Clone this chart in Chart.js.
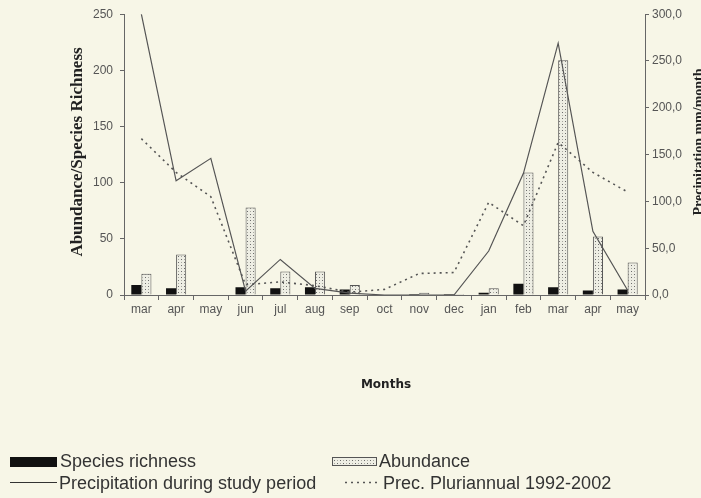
<!DOCTYPE html>
<html><head><meta charset="utf-8">
<script src="https://cdn.jsdelivr.net/npm/chart.js@4.4.1/dist/chart.umd.min.js"></script>
<style>html,body{margin:0;padding:0;background:#f7f6e7;}#wrap{width:701px;height:498px;position:relative;}</style>
</head><body><div id="wrap"><canvas id="c" width="701" height="498"></canvas></div>
<script>
const months = ['mar','apr','may','jun','jul','aug','sep','oct','nov','dec','jan','feb','mar','apr','may'];
const richness = [9,6,0,7,6,7,5,0,1,1,2,10,7,4,5];
const abundance = [19,36,0,78,21,21,9,0,2,1,6,109,209,52,29];
const precStudy = [300,122,146,4,38,7,2,0,0,0,47,130,269,68,5];
const precPluri = [167,131,105,11,14,10,3,6,23,24,99,74,163,131,110];
const leftTicks = [0,50,100,150,200,250];
const rightTicks = [0,50,100,150,200,250,300];

const BG = '#f7f6e7';
const canvas = document.getElementById('c');
const mainCtx = canvas.getContext('2d');
function makePattern(){
  const c = document.createElement('canvas'); c.width = 6; c.height = 6;
  const x = c.getContext('2d');
  x.fillStyle = '#eeeee4'; x.fillRect(0,0,6,6);
  x.fillStyle = '#6a6a6a'; x.fillRect(1,1,1,1); x.fillRect(4,4,1,1);
  x.fillStyle = '#a8a8a0'; x.fillRect(4,1,1,1); x.fillRect(1,4,1,1);
  return mainCtx.createPattern(c,'repeat');
}
const pattern = makePattern();

const decor = {
  id: 'decor',
  beforeDraw(chart){
    const ctx = chart.ctx; ctx.save(); ctx.fillStyle = BG; ctx.fillRect(0,0,chart.width,chart.height); ctx.restore();
  },
  afterDraw(chart){
    const ctx = chart.ctx;
    ctx.save();
    ctx.fillStyle = '#222';
    ctx.textAlign = 'center'; ctx.textBaseline = 'middle';
    ctx.save(); ctx.translate(78,152); ctx.rotate(-Math.PI/2);
    ctx.font = 'bold 17px "Liberation Serif"';
    ctx.fillText('Abundance/Species Richness',0,0); ctx.restore();
    ctx.save(); ctx.translate(699,142); ctx.rotate(-Math.PI/2);
    ctx.font = 'bold 14px "Liberation Serif"';
    ctx.fillText('Precipitation mm/month',0,0); ctx.restore();
    ctx.font = 'bold 12px "DejaVu Sans"';
    ctx.fillText('Months',386,385);
    // legend
    ctx.textAlign = 'left';
    ctx.font = '18px "Liberation Sans"';
    ctx.fillStyle = '#111'; ctx.fillRect(10,457,47,10);
    ctx.fillStyle = '#333'; ctx.fillText('Species richness',60,462);
    ctx.fillStyle = pattern; ctx.fillRect(332,457,45,9);
    ctx.strokeStyle = '#555'; ctx.lineWidth = 1; ctx.strokeRect(332.5,457.5,44,8);
    ctx.fillStyle = '#333'; ctx.fillText('Abundance',379,462);
    ctx.strokeStyle = '#333'; ctx.beginPath(); ctx.moveTo(10,482.5); ctx.lineTo(57,482.5); ctx.stroke();
    ctx.fillText('Precipitation during study period',59,484);
    ctx.strokeStyle = '#555';
    ctx.setLineDash([2,4]); ctx.lineWidth = 1.5; ctx.beginPath(); ctx.moveTo(345,482.5); ctx.lineTo(381,482.5); ctx.stroke();
    ctx.setLineDash([]);
    ctx.fillText('Prec. Pluriannual 1992-2002',383,484);
    ctx.restore();
  }
};

new Chart(canvas, {
  type: 'bar',
  data: {
    labels: months,
    datasets: [
      {type:'line', label:'Precipitation during study period', data: precStudy, yAxisID:'y1', borderColor:'#555', borderWidth:1.2, pointRadius:0, tension:0, order:0, fill:false},
      {type:'line', label:'Prec. Pluriannual 1992-2002', data: precPluri, yAxisID:'y1', borderColor:'#555', borderWidth:1.6, borderDash:[2,4], pointRadius:0, tension:0, order:0, fill:false},
      {label:'Species richness', data: richness, yAxisID:'y', backgroundColor:'#111', borderWidth:0, order:1, categoryPercentage:0.58, barPercentage:1.0},
      {label:'Abundance', data: abundance, yAxisID:'y', backgroundColor: pattern, borderColor:'#555', borderWidth:1, order:1, categoryPercentage:0.58, barPercentage:1.0}
    ]
  },
  options: {
    responsive:false, animation:false, devicePixelRatio:1,
    layout:{padding:{top:13,left:0,right:0,bottom:0}},
    plugins:{legend:{display:false}, tooltip:{enabled:false}},
    scales:{
      x:{
        offset:true,
        grid:{display:true, offset:true, drawOnChartArea:false, drawTicks:true, tickLength:5, color:'#666'},
        border:{color:'#666'},
        ticks:{color:'#555', font:{size:12, family:'Liberation Sans'}, padding:2, maxRotation:0, autoSkip:false},
        afterFit(s){ s.height = 203; }
      },
      y:{
        position:'left', min:0, max:250,
        afterBuildTicks(s){ s.ticks = leftTicks.map(v=>({value:v})); },
        grid:{drawOnChartArea:false, drawTicks:true, tickLength:4, color:'#666'},
        border:{color:'#666'},
        ticks:{color:'#555', font:{size:12, family:'Liberation Sans'}, padding:7},
        afterFit(s){ s.width = 124; }
      },
      y1:{
        position:'right', min:0, max:300,
        afterBuildTicks(s){ s.ticks = rightTicks.map(v=>({value:v})); },
        grid:{drawOnChartArea:false, drawTicks:true, tickLength:4, color:'#666'},
        border:{color:'#666'},
        ticks:{color:'#555', font:{size:12, family:'Liberation Sans'}, padding:3, callback:(v)=>v.toFixed(1).replace('.',',')},
        afterFit(s){ s.width = 56; }
      }
    }
  },
  plugins:[decor]
});
</script></body></html>
